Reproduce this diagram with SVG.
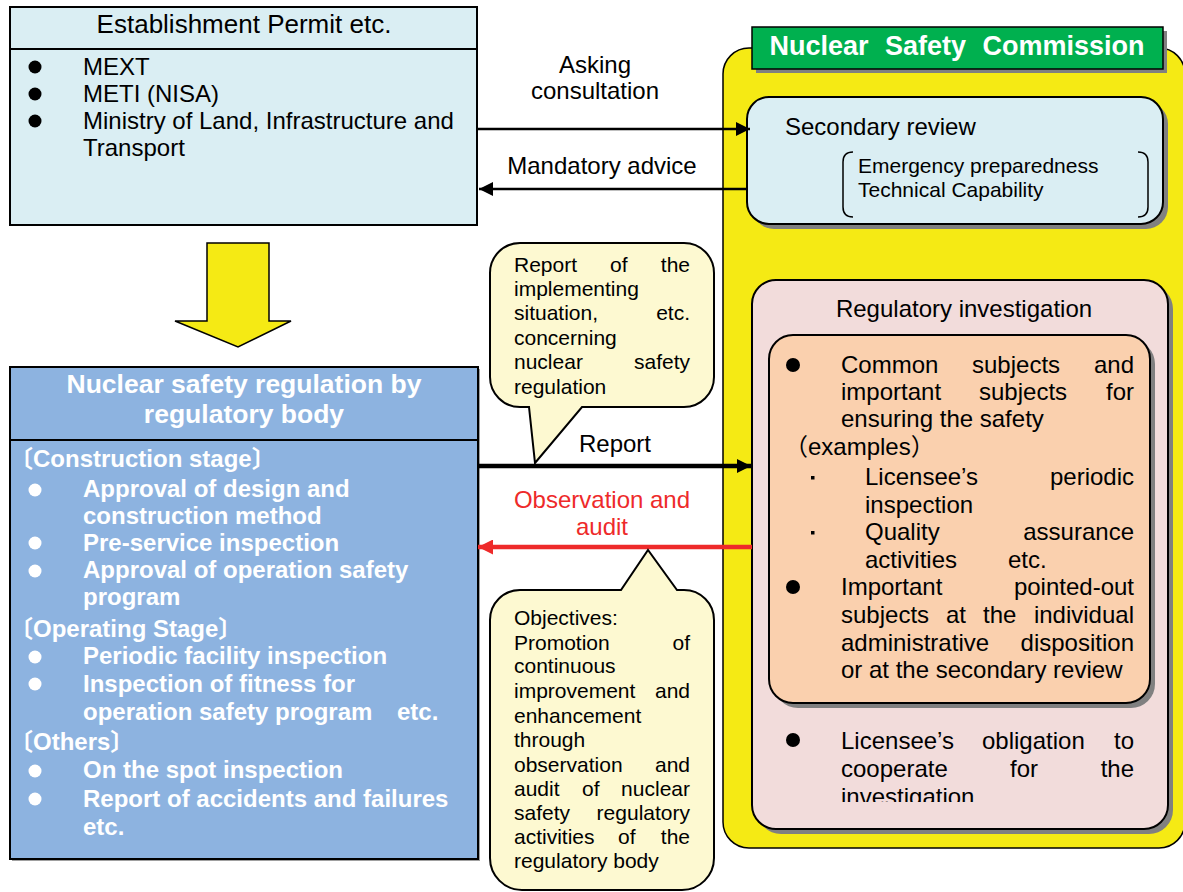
<svg xmlns="http://www.w3.org/2000/svg" width="1183" height="892" viewBox="0 0 1183 892">
  <style>
    text { font-family: 'Liberation Sans', Arial, 'Noto Sans CJK JP', sans-serif; fill: #000; }
    .b24 { font-size: 24px; }
    .b21 { font-size: 21px; }
    .w { fill: #fff; font-weight: bold; }
    .end { text-anchor: end; }
    .mid { text-anchor: middle; }
    .edge { stroke: #000; stroke-width: 2; }
    .shadow { fill: #808080; }
    .callout { fill: #fdf9d1; stroke: #000; stroke-width: 2; }
  </style>
  <defs>
    <marker id="headBlack" viewBox="0 0 14 14" refX="14" refY="7" markerWidth="14" markerHeight="14" markerUnits="userSpaceOnUse" orient="auto">
      <path d="M0,0 L14,7 L0,14 Z" fill="#000"/>
    </marker>
    <marker id="headRed" viewBox="0 0 14 14" refX="14" refY="7" markerWidth="15" markerHeight="15" markerUnits="userSpaceOnUse" orient="auto">
      <path d="M0,0 L14,7 L0,14 Z" fill="#ee2a2a"/>
    </marker>
    <clipPath id="clipCoop">
      <rect x="760" y="720" width="400" height="82"/>
    </clipPath>
  </defs>

  <rect width="1183" height="892" fill="#fff"/>

  <!-- Nuclear Safety Commission container -->
  <g id="nsc">
    <rect x="723" y="48" width="462" height="800" rx="26" fill="#f5ea14" stroke="#000" stroke-width="1.5"/>
    <rect x="756" y="31" width="411" height="42" class="shadow"/>
    <rect x="752" y="27" width="411" height="42" fill="#00b04f" stroke="#000" stroke-width="1.5"/>
    <text x="957" y="55" class="mid w" style="font-size:27px; word-spacing:9px">Nuclear Safety Commission</text>
  </g>

  <!-- Secondary review -->
  <g id="secondary-review">
    <rect x="752" y="102" width="416" height="127" rx="22" class="shadow"/>
    <rect x="747" y="97" width="416" height="127" rx="22" fill="#daeef3" class="edge"/>
    <text x="785" y="135" class="b24">Secondary review</text>
    <path d="M853,152 Q843,152 843,162 V207 Q843,217 853,217" fill="none" stroke="#000" stroke-width="1.5"/>
    <path d="M1138,152 Q1148,152 1148,162 V207 Q1148,217 1138,217" fill="none" stroke="#000" stroke-width="1.5"/>
    <text x="858" y="173" class="b21">Emergency preparedness</text>
    <text x="858" y="197" class="b21">Technical Capability</text>
  </g>

  <!-- Regulatory investigation -->
  <g id="regulatory-investigation">
    <rect x="757" y="285" width="416" height="549" rx="24" class="shadow"/>
    <rect x="752" y="280" width="416" height="549" rx="24" fill="#f2dcdb" class="edge"/>
    <text x="964" y="317" class="b24 mid">Regulatory investigation</text>

    <rect x="774" y="340" width="381" height="368" rx="24" class="shadow"/>
    <rect x="769" y="335" width="381" height="368" rx="24" fill="#fad0ae" class="edge"/>

    <circle cx="793" cy="365" r="7"/>
    <text x="841" y="373" class="b24">Common</text>
    <text x="972" y="373" class="b24">subjects</text>
    <text x="1134" y="373" class="b24 end">and</text>
    <text x="841" y="400" class="b24">important</text>
    <text x="979" y="400" class="b24">subjects</text>
    <text x="1134" y="400" class="b24 end">for</text>
    <text x="841" y="427" class="b24">ensuring the safety</text>
    <text x="784" y="455" class="b24">（examples）</text>
    <rect x="811" y="476" width="3.5" height="3.5"/>
    <text x="865" y="485" class="b24">Licensee’s</text>
    <text x="1134" y="485" class="b24 end">periodic</text>
    <text x="865" y="513" class="b24">inspection</text>
    <rect x="811" y="531" width="3.5" height="3.5"/>
    <text x="865" y="540" class="b24">Quality</text>
    <text x="1134" y="540" class="b24 end">assurance</text>
    <text x="865" y="568" class="b24">activities</text>
    <text x="1008" y="568" class="b24">etc.</text>

    <circle cx="793" cy="587" r="7"/>
    <text x="841" y="595" class="b24">Important</text>
    <text x="1134" y="595" class="b24 end">pointed-out</text>
    <text x="841" y="623" class="b24">subjects</text>
    <text x="946" y="623" class="b24">at</text>
    <text x="983" y="623" class="b24">the</text>
    <text x="1134" y="623" class="b24 end">individual</text>
    <text x="841" y="651" class="b24">administrative</text>
    <text x="1134" y="651" class="b24 end">disposition</text>
    <text x="841" y="678" class="b24">or at the secondary review</text>

    <circle cx="793" cy="740" r="7"/>
    <g clip-path="url(#clipCoop)">
      <text x="841" y="749" class="b24">Licensee’s</text>
      <text x="982" y="749" class="b24">obligation</text>
      <text x="1134" y="749" class="b24 end">to</text>
      <text x="841" y="777" class="b24">cooperate</text>
      <text x="1010" y="777" class="b24">for</text>
      <text x="1134" y="777" class="b24 end">the</text>
      <text x="841" y="805" class="b24">investigation</text>
    </g>
  </g>

  <!-- Establishment Permit -->
  <g id="establishment-permit">
    <rect x="10" y="7" width="467" height="218" fill="#daeef3" class="edge"/>
    <line x1="10" y1="49" x2="477" y2="49" stroke="#000" stroke-width="2"/>
    <text x="244" y="33" class="mid" style="font-size:26px">Establishment Permit etc.</text>
    <circle cx="35" cy="67" r="6.5"/>
    <circle cx="35" cy="94" r="6.5"/>
    <circle cx="35" cy="121" r="6.5"/>
    <text x="83" y="75" class="b24">MEXT</text>
    <text x="83" y="102" class="b24">METI (NISA)</text>
    <text x="83" y="129" class="b24">Ministry of Land, Infrastructure and</text>
    <text x="83" y="156" class="b24">Transport</text>
  </g>

  <!-- Down arrow -->
  <g id="down-arrow">
    <path d="M207,243 H269 V321 H291 L238,347 L175,321 H207 Z" fill="#f5ea14" stroke="#000" stroke-width="1.5"/>
  </g>

  <!-- Regulatory body -->
  <g id="regulatory-body">
    <rect x="12" y="369" width="468" height="492" fill="#a0a0a0"/>
    <rect x="10" y="367" width="468" height="492" fill="#8db3e0" class="edge"/>
    <line x1="10" y1="440" x2="478" y2="440" stroke="#000" stroke-width="2"/>
    <text x="244" y="393" class="mid w" style="font-size:26.5px">Nuclear safety regulation by</text>
    <text x="244" y="423" class="mid w" style="font-size:26.5px">regulatory body</text>

    <text x="9" y="467" class="b24 w">〔Construction stage〕</text>
    <circle cx="35" cy="490" r="6.5" fill="#fff"/>
    <text x="83" y="497" class="b24 w">Approval of design and</text>
    <text x="83" y="524" class="b24 w">construction method</text>
    <circle cx="35" cy="543" r="6.5" fill="#fff"/>
    <text x="83" y="551" class="b24 w">Pre-service inspection</text>
    <circle cx="35" cy="571" r="6.5" fill="#fff"/>
    <text x="83" y="578" class="b24 w">Approval of operation safety</text>
    <text x="83" y="605" class="b24 w">program</text>

    <text x="9" y="637" class="b24 w">〔Operating Stage〕</text>
    <circle cx="35" cy="657" r="6.5" fill="#fff"/>
    <text x="83" y="664" class="b24 w">Periodic facility inspection</text>
    <circle cx="35" cy="684" r="6.5" fill="#fff"/>
    <text x="83" y="692" class="b24 w">Inspection of fitness for</text>
    <text x="83" y="720" class="b24 w">operation safety program</text>
    <text x="397" y="720" class="b24 w">etc.</text>

    <text x="9" y="750" class="b24 w">〔Others〕</text>
    <circle cx="35" cy="771" r="6.5" fill="#fff"/>
    <text x="83" y="778" class="b24 w">On the spot inspection</text>
    <circle cx="35" cy="799" r="6.5" fill="#fff"/>
    <text x="83" y="807" class="b24 w">Report of accidents and failures</text>
    <text x="83" y="835" class="b24 w">etc.</text>
  </g>

  <!-- Connectors -->
  <g id="connectors">
    <line x1="478" y1="129" x2="750" y2="129" stroke="#000" stroke-width="2.5" marker-end="url(#headBlack)"/>
    <line x1="747" y1="189" x2="479" y2="189" stroke="#000" stroke-width="2.5" marker-end="url(#headBlack)"/>
    <line x1="478" y1="466" x2="751" y2="466" stroke="#000" stroke-width="4.5" marker-end="url(#headBlack)"/>
    <line x1="752" y1="547" x2="478" y2="547" stroke="#ee2a2a" stroke-width="4.5" marker-end="url(#headRed)"/>
    <text x="595" y="73" class="b24 mid">Asking</text>
    <text x="595" y="99" class="b24 mid">consultation</text>
    <text x="602" y="174" class="b24 mid">Mandatory advice</text>
    <text x="615" y="452" class="b24 mid">Report</text>
    <text x="602" y="508" class="b24 mid" style="fill:#ee2a2a">Observation and</text>
    <text x="602" y="535" class="b24 mid" style="fill:#ee2a2a">audit</text>
  </g>

  <!-- Report callout -->
  <g id="report-note">
    <path d="M520,243 H684 A30,30 0 0 1 714,273 V377 A30,30 0 0 1 684,407 H582 L535,463 L529,407 H520 A30,30 0 0 1 490,377 V273 A30,30 0 0 1 520,243 Z" class="callout"/>
    <text x="514" y="272" class="b21">Report</text>
    <text x="610" y="272" class="b21">of</text>
    <text x="690" y="272" class="b21 end">the</text>
    <text x="514" y="296" class="b21">implementing</text>
    <text x="514" y="320" class="b21">situation,</text>
    <text x="690" y="320" class="b21 end">etc.</text>
    <text x="514" y="345" class="b21">concerning</text>
    <text x="514" y="369" class="b21">nuclear</text>
    <text x="690" y="369" class="b21 end">safety</text>
    <text x="514" y="394" class="b21">regulation</text>
  </g>

  <!-- Objectives callout -->
  <g id="objectives-note">
    <path d="M520,590 H621 L648,550 L677,590 H684 A30,30 0 0 1 714,620 V858 A32,32 0 0 1 682,890 H522 A32,32 0 0 1 490,858 V620 A30,30 0 0 1 520,590 Z" class="callout"/>
    <text x="514" y="625" class="b21">Objectives:</text>
    <text x="514" y="650" class="b21">Promotion</text>
    <text x="690" y="650" class="b21 end">of</text>
    <text x="514" y="673" class="b21">continuous</text>
    <text x="514" y="698" class="b21">improvement</text>
    <text x="690" y="698" class="b21 end">and</text>
    <text x="514" y="723" class="b21">enhancement</text>
    <text x="514" y="747" class="b21">through</text>
    <text x="514" y="772" class="b21">observation</text>
    <text x="690" y="772" class="b21 end">and</text>
    <text x="514" y="796" class="b21">audit</text>
    <text x="582" y="796" class="b21">of</text>
    <text x="690" y="796" class="b21 end">nuclear</text>
    <text x="514" y="820" class="b21">safety</text>
    <text x="690" y="820" class="b21 end">regulatory</text>
    <text x="514" y="844" class="b21">activities</text>
    <text x="618" y="844" class="b21">of</text>
    <text x="690" y="844" class="b21 end">the</text>
    <text x="514" y="868" class="b21">regulatory body</text>
  </g>
</svg>
